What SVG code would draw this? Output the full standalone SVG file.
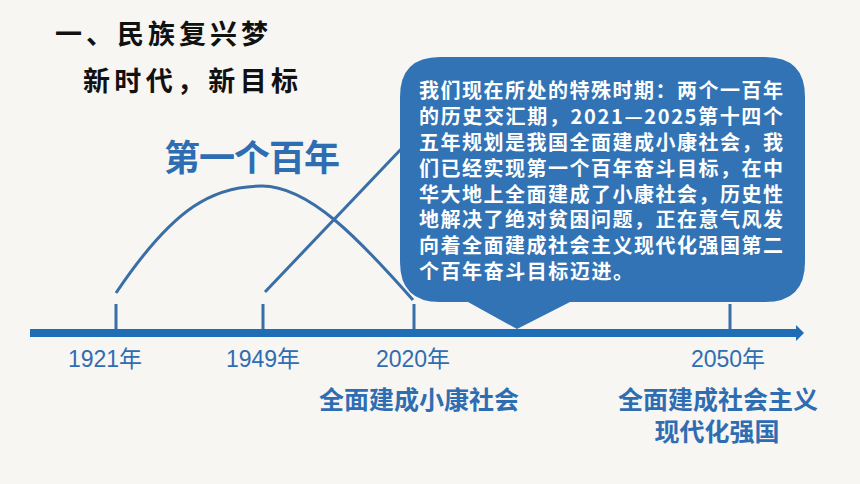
<svg xmlns="http://www.w3.org/2000/svg" width="860" height="484" viewBox="0 0 860 484">
<defs>
<style>
.cn{font-family:"Noto Sans CJK SC","Noto Sans",sans-serif;font-weight:bold}
.title{fill:#111;font-size:27px}
.blue{fill:#2f6db2}
.yr{font-family:"Liberation Sans","Noto Sans CJK SC",sans-serif;fill:#2f6db2;font-size:23px;text-anchor:middle}
.bt{fill:#fff;font-size:20px}
.ln{stroke:#3a6ea6;stroke-width:3;fill:none}
</style>
<marker id="ah" markerWidth="8" markerHeight="16" refX="2" refY="8" orient="auto" markerUnits="userSpaceOnUse">
<path d="M0,0 L8,8 L0,16 Z" fill="#1f6db5"/>
</marker>
</defs>
<rect width="860" height="484" fill="#f7f6f2"/>
<g id="titles">
<text class="cn title" x="55" y="44" textLength="213" lengthAdjust="spacing">一、民族复兴梦</text>
<text class="cn title" x="83" y="91" textLength="215" lengthAdjust="spacing">新时代，新目标</text>
<text class="cn blue" x="164" y="171" font-size="36" textLength="176" lengthAdjust="spacing">第一个百年</text>
</g>
<g id="connectors">
<path class="ln" d="M116 293 C 175 205, 215 186, 262 186 S 360 240, 413 300"/>
<path class="ln" d="M265 292 L404 146"/>
<line class="ln" x1="116" y1="304" x2="116" y2="331"/>
<line class="ln" x1="263" y1="304" x2="263" y2="331"/>
<line class="ln" x1="414" y1="304" x2="414" y2="331"/>
<line class="ln" x1="730" y1="304" x2="730" y2="331"/>
<line x1="30" y1="333" x2="798" y2="333" stroke="#1f6db5" stroke-width="8" marker-end="url(#ah)"/>
</g>
<g id="bubble">
<path d="M440 57 H765 Q805 57 805 97 V262 Q805 302 765 302 H570 L517 329 L468 302 H440 Q400 302 400 262 V97 Q400 57 440 57 Z" fill="#3173b5"/>
<g class="cn bt">
<text x="419" y="98" textLength="364" lengthAdjust="spacing">我们现在所处的特殊时期：两个一百年</text>
<text x="419" y="124" textLength="364" lengthAdjust="spacing">的历史交汇期，2021—2025第十四个</text>
<text x="419" y="150" textLength="364" lengthAdjust="spacing">五年规划是我国全面建成小康社会，我</text>
<text x="419" y="176" textLength="364" lengthAdjust="spacing">们已经实现第一个百年奋斗目标，在中</text>
<text x="419" y="202" textLength="364" lengthAdjust="spacing">华大地上全面建成了小康社会，历史性</text>
<text x="419" y="227" textLength="364" lengthAdjust="spacing">地解决了绝对贫困问题，正在意气风发</text>
<text x="419" y="253" textLength="364" lengthAdjust="spacing">向着全面建成社会主义现代化强国第二</text>
<text x="419" y="279" textLength="214" lengthAdjust="spacing">个百年奋斗目标迈进。</text>
</g>
</g>
<g id="y1921"><text class="yr" x="105" y="367">1921年</text></g>
<g id="y1949"><text class="yr" x="263" y="367">1949年</text></g>
<g id="y2020"><text class="yr" x="413" y="367">2020年</text>
<text class="cn blue" x="419" y="409" font-size="25" text-anchor="middle">全面建成小康社会</text></g>
<g id="y2050"><text class="yr" x="728" y="367">2050年</text>
<text class="cn blue" x="718" y="409" font-size="25" text-anchor="middle">全面建成社会主义</text>
<text class="cn blue" x="717" y="441" font-size="25" text-anchor="middle">现代化强国</text></g>
</svg>
